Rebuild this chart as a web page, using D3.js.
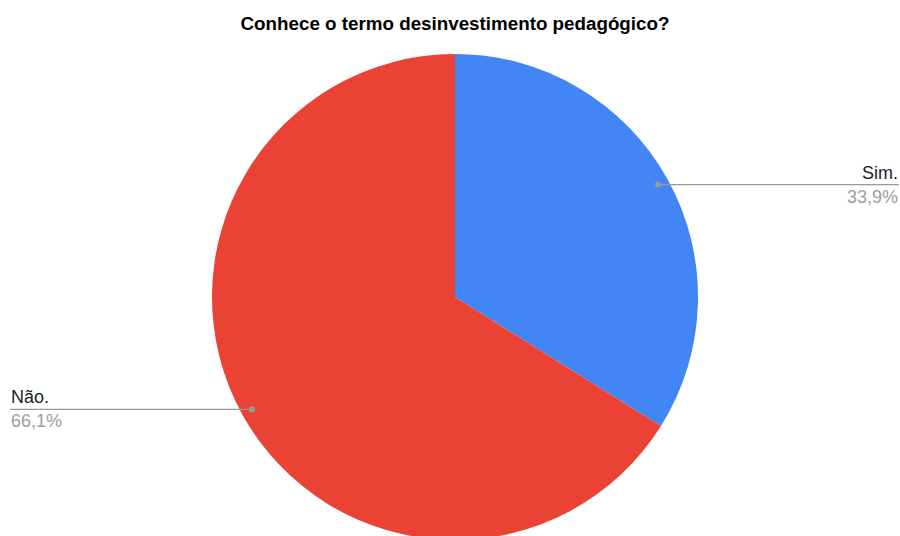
<!DOCTYPE html>
<html><head><meta charset="utf-8">
<script src="https://cdn.jsdelivr.net/npm/d3@7"></script>
<style>body{margin:0;background:#fff}svg{display:block}</style>
</head><body><svg id="c" width="900" height="536"></svg>
<script>
const title = "Conhece o termo desinvestimento pedagógico?";
const categories = ["Sim.", "Não."];
const values = [33.9, 66.1];
const pctLabels = ["33,9%", "66,1%"];
const colors = ["#4285F4", "#EA4335"];

const svg = d3.select("#c");
const W = 900, cx = 455, cy = 297, r = 243;
svg.append("rect").attr("width", W).attr("height", 536).attr("fill", "#fff");
svg.append("text").attr("x", 455).attr("y", 30).attr("text-anchor", "middle")
  .attr("font-family", "Liberation Sans, Arial, sans-serif").attr("font-weight", "bold")
  .attr("font-size", 18.8).attr("fill", "#000").text(title);

const data = categories.map((c, i) => ({c, v: values[i], p: pctLabels[i], col: colors[i]}));
const pie = d3.pie().value(d => d.v).sort(null);
const arcs = pie(data);
const arc = d3.arc().innerRadius(0).outerRadius(r);
const g = svg.append("g").attr("transform", `translate(${cx},${cy})`);
g.selectAll("path").data(arcs).join("path").attr("d", arc).attr("fill", d => d.data.col);

const dotArc = d3.arc().innerRadius(r * 0.955).outerRadius(r * 0.955);
arcs.forEach(a => {
  const [dx, dy] = dotArc.centroid(a);
  const px = cx + dx, py = cy + dy;
  const right = dx > 0;
  const ex = right ? 899 : 10;
  svg.append("line").attr("x1", px).attr("y1", py).attr("x2", ex).attr("y2", py)
    .attr("stroke", "#999").attr("stroke-width", 1.3);
  svg.append("circle").attr("cx", px).attr("cy", py).attr("r", 3).attr("fill", "#999");
  const anchor = right ? "end" : "start";
  const tx = right ? 898 : 11;
  svg.append("text").attr("x", tx).attr("y", py - 6).attr("text-anchor", anchor)
    .attr("font-family", "Liberation Sans, Arial, sans-serif").attr("font-size", 18)
    .attr("fill", "#222").text(a.data.c);
  svg.append("text").attr("x", tx).attr("y", py + 18).attr("text-anchor", anchor)
    .attr("font-family", "Liberation Sans, Arial, sans-serif").attr("font-size", 18)
    .attr("fill", "#9e9e9e").text(a.data.p);
});
</script></body></html>
